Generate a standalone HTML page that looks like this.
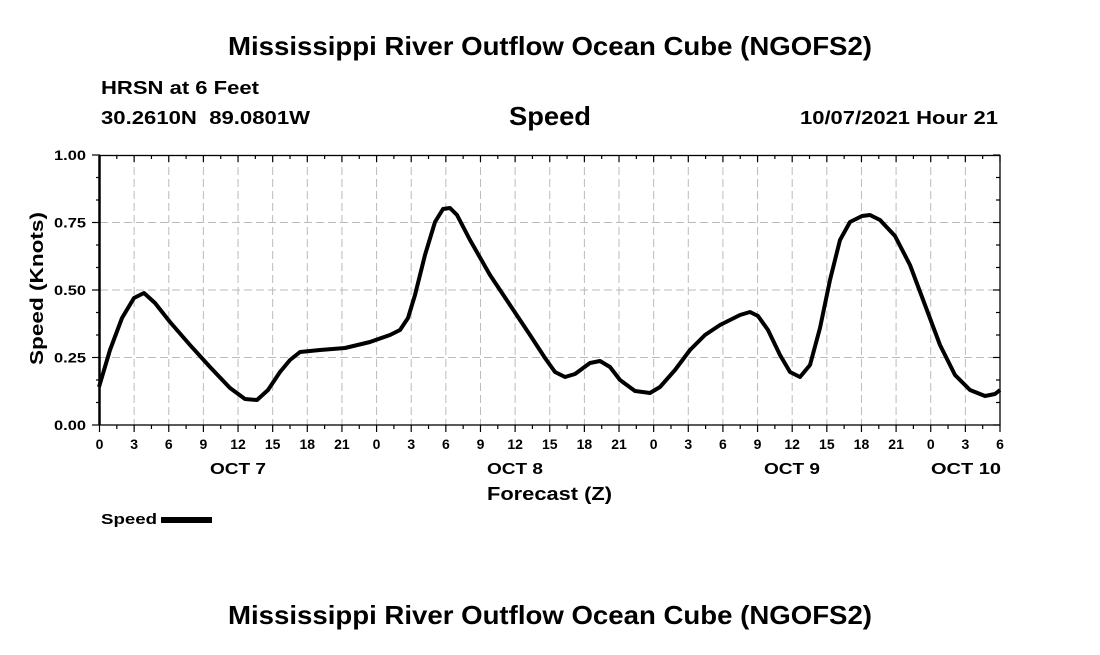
<!DOCTYPE html>
<html><head><meta charset="utf-8"><style>
body{margin:0;background:#fff;}
svg text{font-family:"Liberation Sans",Arial,sans-serif;font-weight:bold;fill:#000;}
</style></head><body>
<svg width="1100" height="650" viewBox="0 0 1100 650" xmlns="http://www.w3.org/2000/svg">
<rect width="1100" height="650" fill="#fff"/>
<text x="228" y="55" font-size="26" textLength="644" lengthAdjust="spacingAndGlyphs">Mississippi River Outflow Ocean Cube (NGOFS2)</text>
<text x="101" y="94" font-size="18" textLength="158" lengthAdjust="spacingAndGlyphs">HRSN at 6 Feet</text>
<text x="101" y="124" font-size="18" textLength="209" lengthAdjust="spacingAndGlyphs" xml:space="preserve">30.2610N  89.0801W</text>
<text x="509" y="125" font-size="26" textLength="82" lengthAdjust="spacingAndGlyphs">Speed</text>
<text x="800" y="124" font-size="18" textLength="198" lengthAdjust="spacingAndGlyphs">10/07/2021 Hour 21</text>
<g stroke="#bbb" stroke-width="1" stroke-dasharray="8,4" id="grid"></g>
<g id="ticks" stroke="#000" stroke-width="1.2"></g>
<rect x="99.5" y="155.5" width="900.5" height="269.5" fill="none" stroke="#000" stroke-width="1.3"/>
<line x1="99.5" y1="155" x2="99.5" y2="425" stroke="#000" stroke-width="2.5"/>
<g id="labels" font-size="14"></g>
<text x="210" y="474" font-size="16" textLength="56" lengthAdjust="spacingAndGlyphs">OCT 7</text>
<text x="487" y="474" font-size="16" textLength="56" lengthAdjust="spacingAndGlyphs">OCT 8</text>
<text x="764" y="474" font-size="16" textLength="56" lengthAdjust="spacingAndGlyphs">OCT 9</text>
<text x="931" y="474" font-size="16" textLength="70" lengthAdjust="spacingAndGlyphs">OCT 10</text>
<text x="487" y="500" font-size="18" textLength="125" lengthAdjust="spacingAndGlyphs">Forecast (Z)</text>
<text transform="translate(43,365) rotate(-90)" font-size="18" textLength="153" lengthAdjust="spacingAndGlyphs">Speed (Knots)</text>
<text x="101" y="524" font-size="15" textLength="56" lengthAdjust="spacingAndGlyphs">Speed</text>
<rect x="161" y="517" width="51" height="6" fill="#000"/>
<path fill="none" stroke="#000" stroke-width="4" stroke-linejoin="round" d="M99,387 L110,350 L122,318 L134,298 L144,293 L155,303 L170,322 L190,345 L210,367 L230,388 L245,399 L257,400 L268,390 L280,372 L290,360 L300,352 L320,350 L345,348 L370,342 L390,335 L400,330 L408,318 L415,295 L425,255 L435,222 L443,209 L450,208 L457,215 L470,240 L490,275 L510,305 L530,335 L545,358 L555,372 L565,377 L575,374 L590,363 L600,361 L610,367 L620,380 L635,391 L650,393 L660,387 L675,370 L690,350 L705,335 L720,325 L740,315 L750,312 L758,316 L768,330 L780,355 L790,372 L800,377 L810,365 L820,328 L830,280 L840,240 L850,222 L862,216 L870,215 L880,220 L895,236 L910,265 L925,305 L940,345 L955,375 L970,390 L985,396 L995,394 L1000,390"/>
<text x="228" y="624" font-size="26" textLength="644" lengthAdjust="spacingAndGlyphs">Mississippi River Outflow Ocean Cube (NGOFS2)</text>
<script>
var ns="http://www.w3.org/2000/svg";
function el(p,t,a,txt){var e=document.createElementNS(ns,t);for(var k in a)e.setAttribute(k,a[k]);if(txt!==undefined)e.textContent=txt;document.getElementById(p).appendChild(e);}
var x0=99.5,x1=1000,y0=425,y1=155,ph=(x1-x0)/78;
for(var h=0;h<=78;h+=3){var x=x0+h*ph;
 if(h>0&&h<78)el("grid","line",{x1:x,y1:155,x2:x,y2:425});
 el("ticks","line",{x1:x,y1:425,x2:x,y2:432});
 el("ticks","line",{x1:x,y1:155,x2:x,y2:162});
 el("labels","text",{x:x,y:449,"text-anchor":"middle"},String(h%24));
 if(h<78){var xm=x+ph*1.5;el("ticks","line",{x1:xm,y1:425,x2:xm,y2:429});el("ticks","line",{x1:xm,y1:155,x2:xm,y2:159});}
}
var vals=["0.00","0.25","0.50","0.75","1.00"];
for(var i=0;i<=4;i++){var y=y0-i*67.5;
 if(i>0&&i<4)el("grid","line",{x1:100,y1:y,x2:1000,y2:y});
 el("ticks","line",{x1:92,y1:y,x2:100,y2:y});
 el("ticks","line",{x1:1000,y1:y,x2:993,y2:y});
 el("labels","text",{x:54,y:y+5,textLength:32,lengthAdjust:"spacingAndGlyphs"},vals[i]);
 if(i<4){for(var j=1;j<=2;j++){var ym=y-j*22.5;el("ticks","line",{x1:96,y1:ym,x2:100,y2:ym});el("ticks","line",{x1:1000,y1:ym,x2:996,y2:ym});}}
}
</script>
</svg>
</body></html>
